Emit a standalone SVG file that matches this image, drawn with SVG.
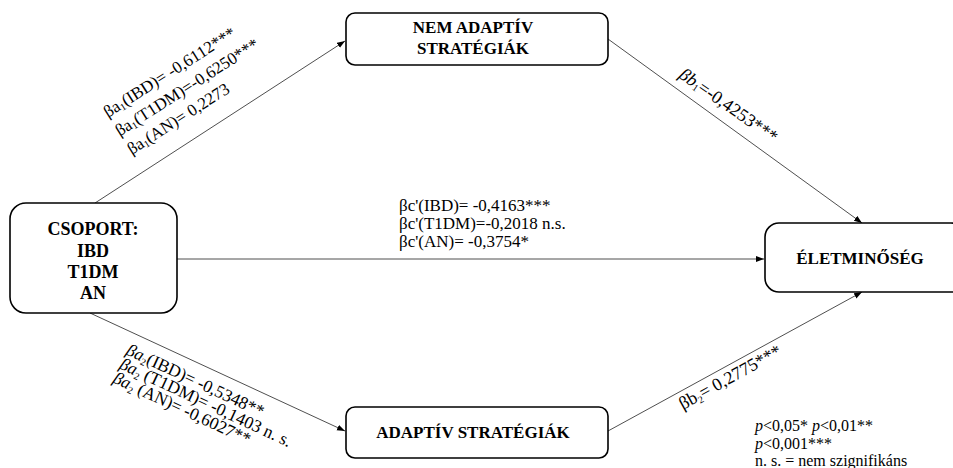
<svg xmlns="http://www.w3.org/2000/svg" width="953" height="468" viewBox="0 0 953 468">
<defs>
<marker id="arr" markerWidth="9" markerHeight="7" refX="8" refY="3" orient="auto" markerUnits="userSpaceOnUse">
<path d="M0,0 L8,3 L0,6 z" fill="#000"/>
</marker>
<style>
.box{fill:#fff;stroke:#000;stroke-width:1.6}
.nt{font-family:"Liberation Serif","Times New Roman",serif;font-weight:bold;font-size:17px;fill:#000;text-anchor:middle}
.lab{font-family:"Liberation Serif","Times New Roman",serif;font-size:17px;fill:#000}
.leg{font-family:"Liberation Serif","Times New Roman",serif;font-size:16px;fill:#000}
.con{stroke:#222;stroke-width:0.8;fill:none;marker-end:url(#arr)}
.sub{font-size:10px}
</style>
</defs>
<rect width="953" height="468" fill="#fff"/>
<g id="connectors">
<line class="con" x1="95" y1="203" x2="345" y2="41"/>
<line class="con" x1="608" y1="39" x2="862" y2="223"/>
<line class="con" x1="177" y1="259" x2="764" y2="259"/>
<line class="con" x1="90" y1="313" x2="345" y2="431"/>
<line class="con" x1="608" y1="431" x2="862" y2="292"/>
</g>
<g id="node-csoport">
<rect class="box" x="10" y="203" width="167" height="110" rx="16"/>
<text class="nt" style="font-size:18px" x="93" y="235">CSOPORT:</text>
<text class="nt" style="font-size:18px" x="93" y="257">IBD</text>
<text class="nt" style="font-size:18px" x="93" y="278">T1DM</text>
<text class="nt" style="font-size:18px" x="93" y="299">AN</text>
</g>
<g id="node-nemadaptiv">
<rect class="box" x="346" y="13" width="262" height="52" rx="9"/>
<text class="nt" x="473" y="33">NEM ADAPTÍV</text>
<text class="nt" x="473" y="54">STRATÉGIÁK</text>
</g>
<g id="node-eletminoseg">
<rect class="box" x="765" y="223" width="200" height="69" rx="14"/>
<text class="nt" x="860" y="264">ÉLETMINŐSÉG</text>
</g>
<g id="node-adaptiv">
<rect class="box" x="346" y="407" width="262" height="51" rx="9"/>
<text class="nt" x="473" y="438">ADAPTÍV STRATÉGIÁK</text>
</g>
<g id="labels">
<g transform="translate(108,118) rotate(-32.5)" class="lab">
<text x="0" y="0">βa<tspan class="sub" dy="2">1</tspan><tspan dy="-2">(IBD)= -0,6112***</tspan></text>
<text x="0" y="22">βa<tspan class="sub" dy="2">1</tspan><tspan dy="-2">(T1DM)=-0,6250***</tspan></text>
<text x="0" y="44">βa<tspan class="sub" dy="2">1</tspan><tspan dy="-2">(AN)= 0,2273</tspan></text>
</g>
<g transform="translate(678,77) rotate(35)" class="lab" style="font-size:18px">
<text x="0" y="0"><tspan font-style="italic">βb</tspan><tspan class="sub" dy="2">1</tspan><tspan dy="-2">=-0,4253***</tspan></text>
</g>
<text class="lab" x="399" y="211">βc'(IBD)= -0,4163***</text>
<text class="lab" x="399" y="229">βc'(T1DM)=-0,2018 n.s.</text>
<text class="lab" x="399" y="247">βc'(AN)= -0,3754*</text>
<g transform="translate(125,354) rotate(25)" class="lab" style="font-size:17.5px">
<text x="0" y="0"><tspan font-style="italic">βa</tspan><tspan class="sub" dy="3">2</tspan><tspan dy="-3">(IBD)= -0,5348**</tspan></text>
<text x="0" y="15.5"><tspan font-style="italic">βa</tspan><tspan class="sub" dy="3">2</tspan><tspan dy="-3"> (T1DM)= -0,1403 n. s.</tspan></text>
<text x="0" y="31"><tspan font-style="italic">βa</tspan><tspan class="sub" dy="3">2</tspan><tspan dy="-3"> (AN)=  -0,6027**</tspan></text>
</g>
<g transform="translate(683,410) rotate(-29)" class="lab" style="font-size:18px">
<text x="0" y="0">βb<tspan class="sub" dy="3">2</tspan><tspan dy="-3">= 0,2775***</tspan></text>
</g>
</g>
<g id="legend" class="leg">
<text x="755" y="431"><tspan font-style="italic">p</tspan>&lt;0,05*   <tspan font-style="italic">p</tspan>&lt;0,01**</text>
<text x="755" y="449"><tspan font-style="italic">p</tspan>&lt;0,001***</text>
<text x="755" y="466">n. s. = nem szignifikáns</text>
</g>
</svg>
